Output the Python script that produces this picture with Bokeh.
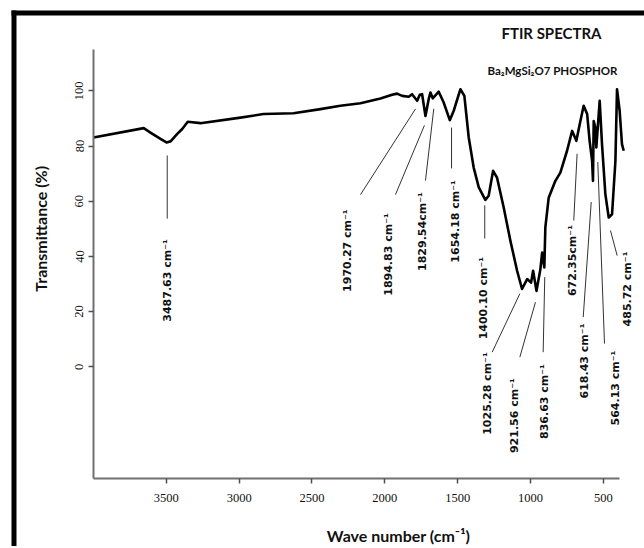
from math import pi
from bokeh.plotting import figure
from bokeh.models import Range1d, FixedTicker, Label, LabelSet, ColumnDataSource
from bokeh.core.properties import value
from bokeh.embed import file_html
from bokeh.resources import INLINE

# ---- spectrum ----
wavenumber = [4000, 3655, 3609, 3540, 3499, 3471, 3425, 3391, 3353, 3266, 2991, 2833, 2627, 2442,
              2305, 2167, 2030, 1950, 1916, 1881, 1836, 1813, 1778, 1760, 1744, 1721, 1699, 1687,
              1671, 1630, 1596, 1554, 1527, 1481, 1454, 1424, 1390, 1355, 1310, 1287, 1257, 1230,
              1184, 1138, 1092, 1058, 1023, 996, 982, 959, 932, 920, 905, 898, 875, 829, 795, 749,
              714, 685, 662, 635, 611, 594, 577, 571, 566, 555, 548, 525, 509, 486, 463, 440, 417,
              406, 388, 372, 360]
transmittance = [83.1, 86.5, 84.9, 82.6, 81.3, 81.7, 84.4, 86.2, 88.8, 88.3, 90.3, 91.6, 91.9, 93.4,
                 94.6, 95.5, 97.2, 98.6, 99.0, 98.2, 97.9, 98.8, 96.4, 98.6, 98.8, 90.9, 97.0, 99.4,
                 97.3, 99.7, 95.8, 89.4, 92.8, 100.6, 98.2, 83.1, 72.2, 65.0, 60.5, 62.0, 71.0, 68.6,
                 57.7, 45.7, 34.8, 28.2, 31.8, 30.5, 34.8, 27.5, 35.4, 41.4, 36.0, 50.5, 61.3, 67.4,
                 70.4, 78.3, 85.5, 81.9, 87.9, 94.6, 91.6, 81.9, 74.6, 67.4, 89.1, 86.7, 79.5, 96.4,
                 80.7, 62.6, 54.1, 55.3, 74.6, 100.6, 92.8, 80.7, 78.3]

# ---- peak annotations ----
peak_labels = ["3487.63 cm\u207b\u00b9", "1970.27 cm\u207b\u00b9", "1894.83 cm\u207b\u00b9",
               "1829.54cm\u207b\u00b9", "1654.18 cm\u207b\u00b9", "1400.10 cm\u207b\u00b9",
               "1025.28 cm\u207b\u00b9", "921.56 cm\u207b\u00b9", "836.63 cm\u207b\u00b9",
               "672.35cm\u207b\u00b9", "618.43 cm\u207b\u00b9", "564.13 cm\u207b\u00b9",
               "485.72 cm\u207b\u00b9"]
label_x = [3495, 2256, 1975, 1742, 1515, 1322, 1292, 1113, 907, 711, 629, 416, 334]
label_y = [31.3, 42.1, 40.7, 49.0, 52.7, 24.9, -9.7, -17.7, -12.6, 38.5, 2.1, -7.7, 28.2]
leader_x0 = [3494, 1789, 1728, 1664, 1542, 1314, 1073, 966, 902, 680, 583, 538, 451]
leader_y0 = [76.6, 93.5, 87.5, 93.5, 86.7, 58.5, 26.5, 23.4, 32.5, 77.2, 59.7, 74.2, 49.4]
leader_x1 = [3494, 2167, 1927, 1721, 1542, 1314, 1263, 1073, 913, 703, 638, 492, 405]
leader_y1 = [53.7, 62.4, 62.4, 67.5, 71.9, 46.5, 5.3, 3.5, 5.3, 53.0, 18.0, 8.4, 40.3]

x_ticks = [3500, 3000, 2500, 2000, 1500, 1000, 500]
y_ticks = [0, 20, 40, 60, 80, 100]
x_axis_bounds = (4000, 390)
y_axis_bounds = (-40.5, 115)

title_text = "FTIR SPECTRA"
subtitle_text = "Ba\u2082MgSi\u2082O7 PHOSPHOR"
x_label = "Wave number (cm\u207b\u00b9)"
y_label = "Transmittance (%)"

# page frame (thick black border at top and left)
frame_top_x = [4563, 217]
frame_top_y = [128.2, 128.2]
frame_left_x = [4545.8, 4545.8]
frame_left_y = [129.1, -66]

p = figure(width=644, height=546, output_backend="svg", toolbar_location=None,
           x_range=Range1d(4638.5, 217.3), y_range=Range1d(-65.14, 132.76),
           min_border=0)
p.outline_line_color = None
p.xgrid.visible = False
p.ygrid.visible = False
p.background_fill_color = "white"
p.border_fill_color = "white"

for ax in (p.xaxis[0], p.yaxis[0]):
    ax.axis_line_color = "#707070"
    ax.axis_line_width = 2
    ax.major_tick_line_color = "#505050"
    ax.major_tick_line_width = 1.5
    ax.major_tick_in = 0
    ax.major_tick_out = 5
    ax.minor_tick_line_color = None
    ax.major_label_text_font = "Liberation Sans Narrow"
    ax.major_label_text_font_size = "12.5px"
    ax.major_label_text_color = "#111111"

p.xaxis.ticker = FixedTicker(ticks=x_ticks)
p.yaxis.ticker = FixedTicker(ticks=y_ticks)
p.xaxis.fixed_location = y_axis_bounds[0]
p.yaxis.fixed_location = x_axis_bounds[0]
p.xaxis.bounds = x_axis_bounds
p.yaxis.bounds = y_axis_bounds
p.xaxis.major_label_standoff = 10
p.yaxis.major_label_standoff = 5
p.yaxis.major_label_orientation = "vertical"

p.line(frame_top_x, frame_top_y, line_color="black", line_width=5)
p.line(frame_left_x, frame_left_y, line_color="black", line_width=5)

p.line(wavenumber, transmittance, line_color="black", line_width=2.6, line_join="round")

p.segment(leader_x0, leader_y0, leader_x1, leader_y1, line_color="#333333", line_width=1)

src = ColumnDataSource(dict(x=label_x, y=label_y, text=peak_labels))
p.add_layout(LabelSet(x="x", y="y", text="text", source=src, angle=pi / 2,
                      text_align="center", text_baseline="middle",
                      text_font=value("DejaVu Sans"), text_font_style="bold",
                      text_font_size="11px", text_color="#111111"))

p.add_layout(Label(x=856, y=120.8, text=title_text, text_font="Lato", text_font_style="bold",
                   text_font_size="15px", text_align="center", text_baseline="middle",
                   text_color="#111111"))
p.add_layout(Label(x=849, y=107.4, text=subtitle_text, text_font="Lato", text_font_style="bold",
                   text_font_size="11.5px", text_align="center", text_baseline="middle",
                   text_color="#111111"))
p.add_layout(Label(x=4364, y=50, text=y_label, angle=pi / 2, text_font="Lato",
                   text_font_style="bold", text_font_size="16px", text_align="center",
                   text_baseline="middle", text_color="#111111"))
p.add_layout(Label(x=1906, y=-61.2, text=x_label, text_font="Lato",
                   text_font_style="bold", text_font_size="16px", text_align="center",
                   text_baseline="middle", text_color="#111111"))

open("out.html", "w").write(file_html(p, INLINE))
